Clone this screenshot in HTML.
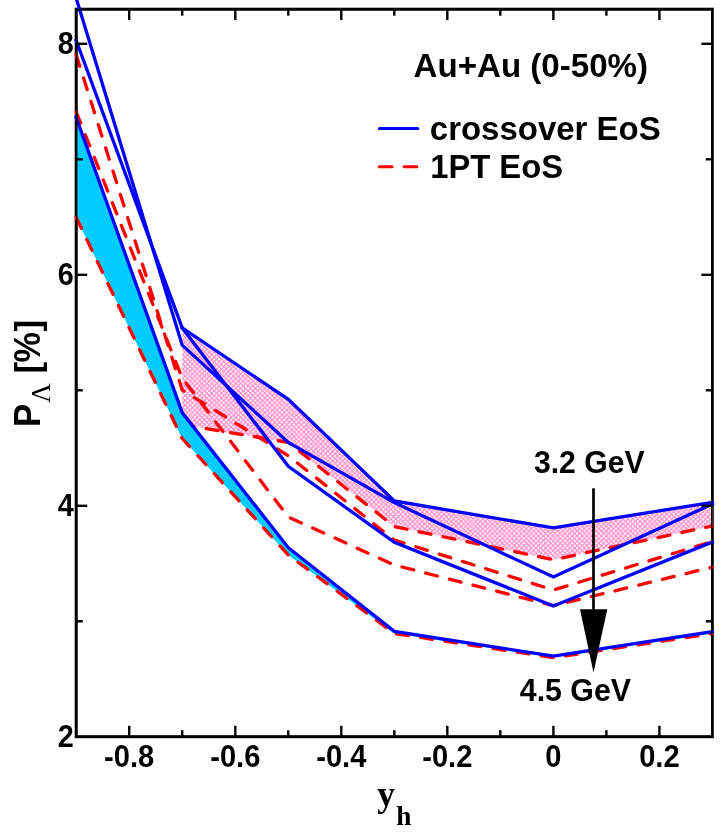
<!DOCTYPE html>
<html>
<head>
<meta charset="utf-8">
<title>P_Lambda vs y_h</title>
<style>
  html, body { margin: 0; padding: 0; background: #ffffff; }
  body { width: 725px; height: 832px; overflow: hidden; }
  svg { display: block; will-change: transform; }
  .sb { font-family: "Liberation Sans", sans-serif; font-weight: bold; fill: #000; }
  .rb { font-family: "Liberation Serif", serif; font-weight: bold; fill: #000; }
  .rn { font-family: "Liberation Serif", serif; font-weight: normal; fill: #000; }
  .bl { fill: none; stroke: #0000ff; stroke-width: 3.3; stroke-linejoin: miter; stroke-linecap: square; }
  .rd { fill: none; stroke: #ff0000; stroke-width: 3.3; stroke-linejoin: round; stroke-linecap: round; stroke-dasharray: 12 12.4; }
  .tk { stroke: #000; stroke-width: 2.4; fill: none; }
</style>
</head>
<body>
<svg width="725" height="832" viewBox="0 0 725 832">
  <defs>
    <pattern id="dots" x="0" y="0" width="4.84" height="4.84" patternUnits="userSpaceOnUse">
      <rect x="0" y="0" width="4.84" height="4.84" fill="#ff99cc"/>
      <circle cx="1.21" cy="1.21" r="1.1" fill="#ffffff"/>
      <circle cx="3.63" cy="3.63" r="1.1" fill="#ffffff"/>
    </pattern>
  </defs>
  <rect x="0" y="0" width="725" height="832" fill="#ffffff"/>

  <!-- frame -->
  <rect x="76.1" y="9.1" width="636.3" height="727.7" fill="none" stroke="#000" stroke-width="2.8"/>

  <!-- 3.2 GeV band + its 1PT line -->
  <polygon fill="url(#dots)" points="182.2,327.9 288.3,399.4 394.3,501 553.4,527.9 712.4,502.3 712.4,526 553.4,559.7 394.3,526.6 288.3,442.4 182.2,424.6"/>
  <polyline class="rd" points="182.2,424.6 288.3,442.4 394.3,526.6 553.4,559.7 712.4,526"/>

  <!-- 4.5 GeV band -->
  <polygon fill="#00ccff" points="76.2,117.5 182.2,412.6 288.3,547.7 394.3,631.4 553.4,656.2 712.4,631.6 712.4,633.6 553.4,657.6 394.3,633.5 288.3,555 182.2,438.5 76.2,217.5"/>

  <!-- red dashed (1PT EoS) -->
  <polyline class="rd" points="76.2,54.8 182.2,390 288.3,455.7 394.3,540 553.4,590 712.4,541.5"/>
  <polyline class="rd" points="76.2,112 182.2,378 288.3,517 394.3,565 553.4,605.7 712.4,567.2"/>
  <polyline class="rd" points="76.2,217.5 182.2,438.5 288.3,555 394.3,633.5 553.4,657.6 712.4,633.6"/>

  <!-- blue solid (crossover EoS) -->
  <polyline class="bl" points="182.2,327.9 288.3,399.4 394.3,501 553.4,527.9 712.4,502.3"/>
  <polyline class="bl" points="76.2,40.5 182.2,327.9 288.3,466.3 394.3,542.3 553.4,606 712.4,542"/>
  <polyline class="bl" points="74.9,-6 182.2,345.2 288.3,442.4 394.3,502.6 553.4,577 712.4,504"/>
  <polyline class="bl" points="76.2,117.5 182.2,412.6 288.3,547.7 394.3,631.4 553.4,656.2 712.4,631.6"/>

  <!-- axes redrawn (inner half of frame line) -->
  <rect x="76.8" y="9.8" width="634.9" height="726.3" fill="none" stroke="#000" stroke-width="1.4"/>

  <!-- ticks: bottom -->
  <g class="tk">
    <line x1="129.2" y1="736.8" x2="129.2" y2="725.8"/>
    <line x1="129.2" y1="9.1" x2="129.2" y2="20.1"/>
    <line x1="182.2" y1="736.8" x2="182.2" y2="730.2"/>
    <line x1="182.2" y1="9.1" x2="182.2" y2="15.7"/>
    <line x1="235.3" y1="736.8" x2="235.3" y2="725.8"/>
    <line x1="235.3" y1="9.1" x2="235.3" y2="20.1"/>
    <line x1="288.3" y1="736.8" x2="288.3" y2="730.2"/>
    <line x1="288.3" y1="9.1" x2="288.3" y2="15.7"/>
    <line x1="341.3" y1="736.8" x2="341.3" y2="725.8"/>
    <line x1="341.3" y1="9.1" x2="341.3" y2="20.1"/>
    <line x1="394.3" y1="736.8" x2="394.3" y2="730.2"/>
    <line x1="394.3" y1="9.1" x2="394.3" y2="15.7"/>
    <line x1="447.3" y1="736.8" x2="447.3" y2="725.8"/>
    <line x1="447.3" y1="9.1" x2="447.3" y2="20.1"/>
    <line x1="500.3" y1="736.8" x2="500.3" y2="730.2"/>
    <line x1="500.3" y1="9.1" x2="500.3" y2="15.7"/>
    <line x1="553.4" y1="736.8" x2="553.4" y2="725.8"/>
    <line x1="553.4" y1="9.1" x2="553.4" y2="20.1"/>
    <line x1="606.4" y1="736.8" x2="606.4" y2="730.2"/>
    <line x1="606.4" y1="9.1" x2="606.4" y2="15.7"/>
    <line x1="659.4" y1="736.8" x2="659.4" y2="725.8"/>
    <line x1="659.4" y1="9.1" x2="659.4" y2="20.1"/>
    <line x1="76.2" y1="621.3" x2="82.8" y2="621.3"/>
    <line x1="712.4" y1="621.3" x2="705.8" y2="621.3"/>
    <line x1="76.2" y1="505.8" x2="87.2" y2="505.8"/>
    <line x1="712.4" y1="505.8" x2="701.4" y2="505.8"/>
    <line x1="76.2" y1="390.3" x2="82.8" y2="390.3"/>
    <line x1="712.4" y1="390.3" x2="705.8" y2="390.3"/>
    <line x1="76.2" y1="274.8" x2="87.2" y2="274.8"/>
    <line x1="712.4" y1="274.8" x2="701.4" y2="274.8"/>
    <line x1="76.2" y1="159.3" x2="82.8" y2="159.3"/>
    <line x1="712.4" y1="159.3" x2="705.8" y2="159.3"/>
    <line x1="76.2" y1="43.8" x2="87.2" y2="43.8"/>
    <line x1="712.4" y1="43.8" x2="701.4" y2="43.8"/>
  </g>

  <!-- arrow -->
  <line x1="593.5" y1="488.3" x2="593.5" y2="612" stroke="#000" stroke-width="2.7"/>
  <polygon points="580,609.2 607.3,609.2 593.5,672.4" fill="#000"/>

  <!-- legend -->
  <line x1="379.4" y1="128.5" x2="417.8" y2="128.5" stroke="#0000ff" stroke-width="3" stroke-linecap="round"/>
  <line x1="379.4" y1="166.7" x2="392" y2="166.7" stroke="#ff0000" stroke-width="3" stroke-linecap="round"/>
  <line x1="404.1" y1="166.7" x2="416.8" y2="166.7" stroke="#ff0000" stroke-width="3" stroke-linecap="round"/>

  <text class="sb" transform="translate(413.6,77) scale(0.9735,1)" font-size="34">Au+Au (0-50%)</text>
  <text class="sb" transform="translate(429.8,139.8) scale(0.9702,1)" font-size="34">crossover EoS</text>
  <text class="sb" transform="translate(430.2,178.1) scale(0.9634,1)" font-size="34">1PT EoS</text>
  <text class="sb" transform="translate(533.9,472.6) scale(0.973,1)" font-size="31">3.2 GeV</text>
  <text class="sb" transform="translate(519.8,701) scale(0.978,1)" font-size="31">4.5 GeV</text>

  <!-- axis tick labels -->
  <g class="sb" font-size="32" text-anchor="end">
    <text transform="translate(73.8,54.2) scale(0.9,1)">8</text>
    <text transform="translate(73.8,285.3) scale(0.9,1)">6</text>
    <text transform="translate(73.8,516.3) scale(0.9,1)">4</text>
    <text transform="translate(73.8,747.4) scale(0.9,1)">2</text>
  </g>
  <g class="sb" font-size="32.2" text-anchor="middle">
    <text transform="translate(129.2,766.7) scale(0.905,1)">-0.8</text>
    <text transform="translate(235.3,766.7) scale(0.905,1)">-0.6</text>
    <text transform="translate(341.3,766.7) scale(0.905,1)">-0.4</text>
    <text transform="translate(447.3,766.7) scale(0.905,1)">-0.2</text>
    <text transform="translate(553.4,766.7) scale(0.905,1)">0</text>
    <text transform="translate(659.4,766.7) scale(0.905,1)">0.2</text>
  </g>

  <!-- y axis title -->
  <g transform="translate(39.8,427) rotate(-90)">
    <text class="sb" transform="scale(0.94,1)" x="0" y="0" font-size="37">P</text>
    <text class="rn" transform="translate(24,10.2) scale(0.97,1)" font-size="28">&#923;</text>
    <text class="sb" x="53.5" y="0" font-size="35">[</text>
    <text class="sb" transform="translate(64.4,0.5) scale(0.93,1)" font-size="36.8">%</text>
    <text class="sb" x="95.5" y="0" font-size="35">]</text>
  </g>

  <!-- x axis title -->
  <text class="rb" x="377.3" y="805.8" font-size="35.5">y</text>
  <text class="rb" x="396.3" y="824.5" font-size="27.3">h</text>
</svg>
</body>
</html>
